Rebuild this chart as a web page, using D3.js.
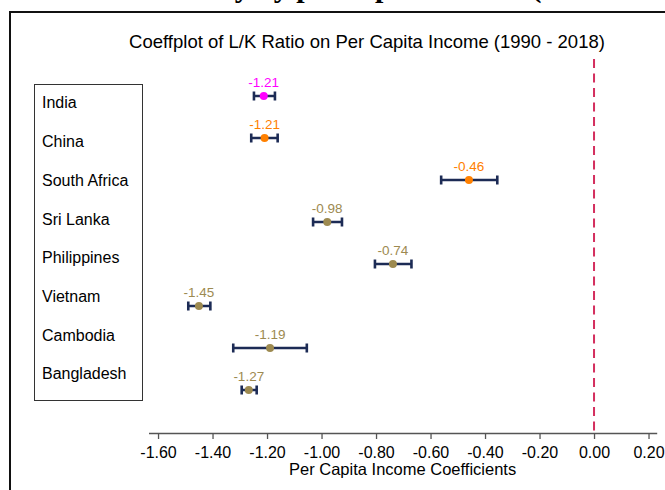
<!DOCTYPE html>
<html>
<head>
<meta charset="utf-8">
<script src="https://cdn.jsdelivr.net/npm/d3@7"></script>
<style>
  body { margin: 0; background: #fff; }
  text { font-family: "Liberation Sans", Arial, Helvetica, sans-serif; }
</style>
</head>
<body>
<div class="chart"></div>
<script>
// data
var countries = ['India', 'China', 'South Africa', 'Sri Lanka', 'Philippines', 'Vietnam', 'Cambodia', 'Bangladesh'];
var coef  = [-1.212, -1.209, -0.459, -0.979, -0.738, -1.450, -1.189, -1.267];
var lower = [-1.248, -1.258, -0.561, -1.031, -0.804, -1.489, -1.324, -1.293];
var upper = [-1.171, -1.161, -0.355, -0.925, -0.670, -1.408, -1.054, -1.238];
var pointColor = ['#ff00ff', '#ff8000', '#ff8000', '#9d8a50', '#9d8a50', '#9d8a50', '#9d8a50', '#9d8a50'];
var xTicks = [-1.6, -1.4, -1.2, -1.0, -0.8, -0.6, -0.4, -0.2, 0.0, 0.2];

var width = 665, height = 490;
var navy = '#1c2b55';

// plain hyphen for negatives, like the original
var locale = d3.formatLocale({ decimal: '.', thousands: ',', grouping: [3], currency: ['', ''], minus: '-' });
var fmt = locale.format('.2f');

var svg = d3.select('.chart')
  .append('svg')
  .attr('width', width)
  .attr('height', height);

svg.append('rect')
  .attr('width', width)
  .attr('height', height)
  .style('fill', 'white');

// cut-off heading of the page above the figure
svg.append('text')
  .attr('x', -7)
  .attr('y', -3)
  .style('font-family', '"Liberation Serif", "Times New Roman", serif')
  .style('font-weight', 'bold')
  .style('font-size', '30px')
  .text('L/K Ratio Elasticity by per capita income (1990 - 2018)');

// figure frame
svg.append('rect')
  .attr('x', 10)
  .attr('y', 12)
  .attr('width', 700)
  .attr('height', 520)
  .style('fill', 'none')
  .style('stroke', '#111')
  .style('stroke-width', 2);

svg.append('text')
  .attr('x', 367)
  .attr('y', 48)
  .style('text-anchor', 'middle')
  .style('font-size', '18.5px')
  .text('Coeffplot of L/K Ratio on Per Capita Income (1990 - 2018)');

var xScale = d3.scaleLinear()
  .domain([-1.635, 0.23])
  .range([148.5, 656.7]);

var yScale = d3.scalePoint()
  .domain(countries)
  .range([96, 390]);

var legendY = d3.scalePoint()
  .domain(countries)
  .range([102.7, 373.7]);

// x axis
var axisY = 433;
var xAxis = svg.append('g')
  .attr('transform', 'translate(0,' + axisY + ')')
  .call(d3.axisBottom(xScale)
    .tickValues(xTicks)
    .tickFormat(fmt)
    .tickSize(6)
    .tickPadding(8)
    .tickSizeOuter(0));

xAxis.select('.domain').style('stroke', '#555').style('stroke-width', 1.3);
xAxis.selectAll('.tick line').style('stroke', '#555').style('stroke-width', 1.3);
xAxis.selectAll('.tick text')
  .style('font-family', '"Liberation Sans", Arial, sans-serif')
  .style('font-size', '16px')
  .style('fill', '#000');

svg.append('text')
  .attr('x', (xScale.range()[0] + xScale.range()[1]) / 2)
  .attr('y', 475)
  .style('text-anchor', 'middle')
  .style('font-size', '16.5px')
  .text('Per Capita Income Coefficients');

// reference line at zero
svg.append('line')
  .attr('x1', xScale(0))
  .attr('x2', xScale(0))
  .attr('y1', 59)
  .attr('y2', axisY)
  .style('stroke', '#d42e5e')
  .style('stroke-width', 2)
  .style('stroke-dasharray', '9,5.5');

// legend box with country names
svg.append('rect')
  .attr('x', 34.5)
  .attr('y', 84.5)
  .attr('width', 108)
  .attr('height', 316)
  .style('fill', 'white')
  .style('stroke', '#333')
  .style('stroke-width', 1);

svg.selectAll('.legendLabel')
  .data(countries)
  .enter()
  .append('text')
  .attr('class', 'legendLabel')
  .attr('x', 42)
  .attr('y', d => legendY(d))
  .attr('dy', '0.36em')
  .style('font-size', '16px')
  .text(d => d);

// confidence intervals
var rows = countries.map((c, i) => ({
  country: c, coef: coef[i], lo: lower[i], hi: upper[i], color: pointColor[i]
}));

var capH = 4.5;
svg.selectAll('.ci')
  .data(rows)
  .enter()
  .append('path')
  .attr('class', 'ci')
  .attr('d', d => {
    var y = yScale(d.country), x0 = xScale(d.lo), x1 = xScale(d.hi);
    return 'M' + x0 + ',' + y + 'H' + x1 +
      'M' + x0 + ',' + (y - capH) + 'V' + (y + capH) +
      'M' + x1 + ',' + (y - capH) + 'V' + (y + capH);
  })
  .style('fill', 'none')
  .style('stroke', navy)
  .style('stroke-width', 2.6);

svg.selectAll('.dot')
  .data(rows)
  .enter()
  .append('circle')
  .attr('class', 'dot')
  .attr('cx', d => xScale(d.coef))
  .attr('cy', d => yScale(d.country))
  .attr('r', 4)
  .style('fill', d => d.color);

svg.selectAll('.valueLabel')
  .data(rows)
  .enter()
  .append('text')
  .attr('class', 'valueLabel')
  .attr('x', d => xScale(d.coef))
  .attr('y', d => yScale(d.country) - 8.7)
  .style('text-anchor', 'middle')
  .style('font-size', '13.5px')
  .style('fill', d => d.color)
  .text(d => fmt(d.coef));
</script>
</body>
</html>
